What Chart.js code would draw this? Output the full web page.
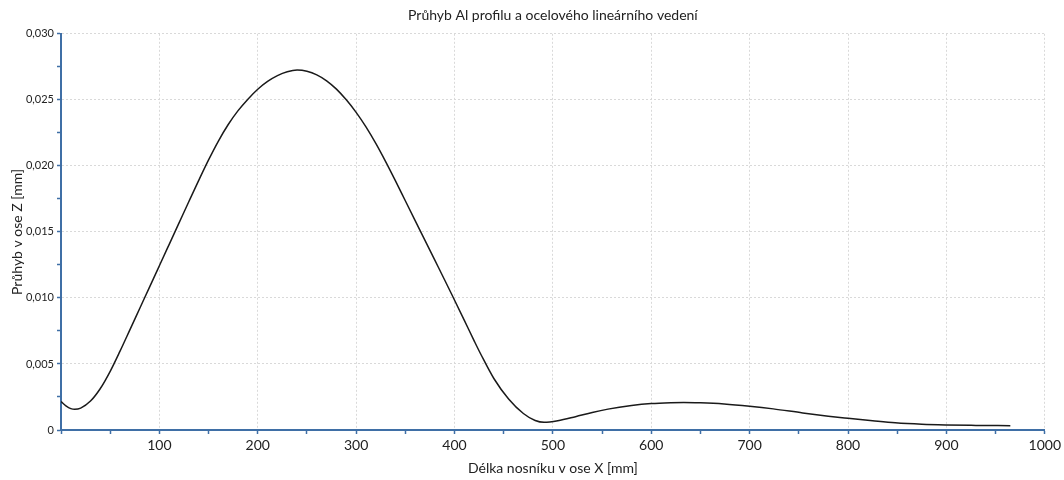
<!DOCTYPE html>
<html>
<head>
<meta charset="utf-8">
<script src="https://cdn.jsdelivr.net/npm/chart.js@4"></script>
<style>
html,body{margin:0;padding:0;background:#fff;}
#wrap{width:1064px;height:480px;}
</style>
</head>
<body>
<div id="wrap"><canvas id="c" width="1064" height="480"></canvas></div>
<script>
const xValues = [0, 5, 10, 14, 20, 30, 40, 50, 60, 70, 80, 90, 100, 110, 120, 130, 140, 150, 160, 170, 180, 190, 200, 210, 220, 230, 240, 250, 260, 270, 280, 290, 300, 310, 320, 330, 340, 350, 360, 370, 380, 390, 397, 410, 420, 427, 440, 455, 470, 482, 491, 505, 523, 540, 556, 580, 600, 620, 633, 650, 674, 700, 724, 754, 780, 800, 825, 848, 875, 899, 930, 965];
const yValues = [0.00215, 0.00183, 0.00162, 0.00157, 0.00166, 0.00219, 0.00314, 0.00444, 0.00597, 0.00758, 0.00920, 0.01082, 0.01244, 0.01406, 0.01568, 0.01730, 0.01890, 0.02045, 0.02188, 0.02313, 0.02418, 0.02505, 0.02580, 0.02639, 0.02683, 0.02712, 0.02725, 0.02716, 0.02689, 0.02644, 0.02581, 0.02500, 0.02405, 0.02295, 0.02170, 0.02032, 0.01886, 0.01736, 0.01586, 0.01436, 0.01286, 0.01136, 0.01030, 0.00830, 0.00675, 0.00570, 0.00390, 0.00235, 0.00125, 0.00072, 0.00058, 0.00070, 0.00101, 0.00133, 0.00158, 0.00185, 0.00200, 0.00207, 0.00209, 0.00206, 0.00197, 0.00180, 0.00160, 0.00129, 0.00105, 0.00089, 0.00070, 0.00054, 0.00043, 0.00038, 0.00035, 0.00033];
const xTickLabels = ['100','200','300','400','500','600','700','800','900','1000'];
const yTickLabels = ['0','0,005','0,010','0,015','0,020','0,025','0,030'];
const chartTitle = 'Průhyb Al profilu a ocelového lineárního vedení';
const xTitle = 'Délka nosníku v ose X [mm]';
const yTitle = 'Průhyb v ose Z [mm]';

const axisBlue = '#3f6fa6';
const gridGrey = '#d9d9d9';
const fontFam = 'Lato, "Open Sans", sans-serif';

const points = xValues.map((x, i) => ({x: x, y: yValues[i]}));

new Chart(document.getElementById('c'), {
  type: 'line',
  data: {
    datasets: [{
      data: points,
      borderColor: '#1a1a1a',
      borderWidth: 1.5,
      pointRadius: 0,
      fill: false,
      cubicInterpolationMode: 'monotone'
    }]
  },
  options: {
    responsive: false,
    animation: false,
    layout: {padding: {left: 0, right: 10, top: 0, bottom: 0}},
    plugins: {
      legend: {display: false},
      tooltip: {enabled: false},
      title: {
        display: true,
        text: chartTitle,
        fullSize: false,
        color: '#222',
        font: {family: fontFam, size: 14, weight: 'normal'},
        padding: {top: 7, bottom: 10}
      }
    },
    scales: {
      x: {
        type: 'linear',
        min: 0, max: 1000,
        afterFit: s => { s.height = 50; },
        ticks: {
          stepSize: 50,
          color: '#222',
          font: {family: fontFam, size: 14},
          padding: 3,
          maxRotation: 0,
          autoSkip: false,
          callback: v => {
            if (v === 0 || v % 100 !== 0) return '';
            return xTickLabels[v / 100 - 1];
          }
        },
        grid: {
          color: ctx => (ctx.tick && ctx.tick.value % 100 === 0) ? gridGrey : 'rgba(0,0,0,0)',
          lineWidth: 1,
          tickLength: 4,
          tickColor: axisBlue,
          tickWidth: 1.5
        },
        border: {display: true, color: axisBlue, width: 2, dash: [2, 2]},
        title: {
          display: true, text: xTitle, color: '#222',
          font: {family: fontFam, size: 14},
          padding: {top: 0, bottom: 3}
        }
      },
      y: {
        type: 'linear',
        min: 0, max: 0.030,
        afterFit: s => { s.width = 61; },
        ticks: {
          stepSize: 0.0025,
          color: '#222',
          font: {family: fontFam, size: 11},
          padding: 3,
          autoSkip: false,
          callback: v => {
            const k = Math.round(v / 0.0025);
            if (k % 2 !== 0) return '';
            return yTickLabels[k / 2];
          }
        },
        grid: {
          color: ctx => (ctx.tick && Math.round(ctx.tick.value / 0.0025) % 2 === 0) ? gridGrey : 'rgba(0,0,0,0)',
          lineWidth: 1,
          tickLength: 4,
          tickColor: axisBlue,
          tickWidth: 1.5
        },
        border: {display: true, color: axisBlue, width: 2, dash: [2, 2]},
        title: {
          display: true, text: yTitle, color: '#222',
          font: {family: fontFam, size: 14},
          padding: {top: 9, bottom: 0}
        }
      }
    }
  }
});
</script>
</body>
</html>
